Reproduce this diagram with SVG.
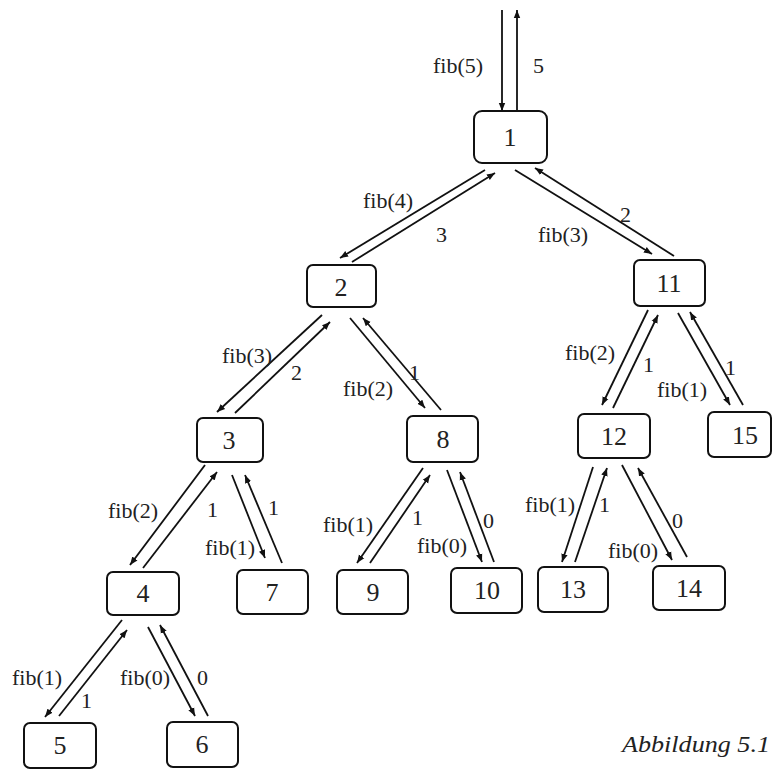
<svg xmlns="http://www.w3.org/2000/svg" width="773" height="771" viewBox="0 0 773 771">
<style>
.n rect{fill:#fff;stroke:#111;stroke-width:2}
.n text{font-size:26px;fill:#222;text-anchor:middle;dominant-baseline:central}
.c line{stroke:#111;stroke-width:1.8;marker-end:url(#ah)}
.l text{font-size:22px;fill:#222}
.cap{font-size:23px;font-style:italic;fill:#222}
</style>
<defs>
<marker id="ah" viewBox="0 0 10 10" refX="10" refY="5" markerWidth="4.5" markerHeight="4.5" orient="auto" markerUnits="strokeWidth">
<path d="M0,1 L10,5 L0,9 z" fill="#111"/>
</marker>
</defs>
<rect width="773" height="771" fill="#fff"/>
<g id="connectors" class="c">
<line x1="502" y1="10" x2="502" y2="111"/>
<line x1="517" y1="111" x2="517" y2="10"/>
<line x1="485" y1="170" x2="340" y2="258"/>
<line x1="352" y1="262" x2="495" y2="173"/>
<line x1="515" y1="170" x2="652" y2="254"/>
<line x1="674" y1="256" x2="535" y2="168"/>
<line x1="322" y1="315" x2="217" y2="412"/>
<line x1="235" y1="413" x2="330" y2="322"/>
<line x1="350" y1="318" x2="425" y2="408"/>
<line x1="441" y1="410" x2="363" y2="318"/>
<line x1="648" y1="310" x2="602" y2="405"/>
<line x1="613" y1="408" x2="658" y2="315"/>
<line x1="678" y1="313" x2="730" y2="405"/>
<line x1="743" y1="405" x2="690" y2="312"/>
<line x1="205" y1="465" x2="130" y2="565"/>
<line x1="143" y1="568" x2="217" y2="472"/>
<line x1="232" y1="475" x2="265" y2="558"/>
<line x1="282" y1="563" x2="245" y2="475"/>
<line x1="423" y1="468" x2="357" y2="563"/>
<line x1="370" y1="563" x2="430" y2="475"/>
<line x1="447" y1="470" x2="482" y2="562"/>
<line x1="494" y1="562" x2="460" y2="472"/>
<line x1="593" y1="467" x2="562" y2="562"/>
<line x1="575" y1="562" x2="607" y2="468"/>
<line x1="622" y1="465" x2="672" y2="560"/>
<line x1="687" y1="557" x2="638" y2="468"/>
<line x1="122" y1="620" x2="45" y2="717"/>
<line x1="59" y1="716" x2="127" y2="630"/>
<line x1="148" y1="627" x2="195" y2="716"/>
<line x1="208" y1="716" x2="160" y2="625"/>
</g>
<g font-family="Liberation Serif, Times New Roman, DejaVu Serif, serif">
<g id="labels" class="l">
<text x="433" y="73">fib(5)</text><text x="533" y="73">5</text>
<text x="363" y="208">fib(4)</text><text x="436" y="242">3</text>
<text x="538" y="242">fib(3)</text><text x="620" y="222">2</text>
<text x="222" y="363">fib(3)</text><text x="291" y="380">2</text>
<text x="343" y="396">fib(2)</text><text x="409" y="380">1</text>
<text x="565" y="360">fib(2)</text><text x="643" y="372">1</text>
<text x="657" y="397">fib(1)</text><text x="725" y="375">1</text>
<text x="108" y="518">fib(2)</text><text x="207" y="517">1</text>
<text x="205" y="555">fib(1)</text><text x="268" y="515">1</text>
<text x="323" y="532">fib(1)</text><text x="412" y="525">1</text>
<text x="417" y="553">fib(0)</text><text x="483" y="528">0</text>
<text x="525" y="512">fib(1)</text><text x="599" y="512">1</text>
<text x="608" y="558">fib(0)</text><text x="672" y="528">0</text>
<text x="12" y="685">fib(1)</text><text x="81" y="708">1</text>
<text x="120" y="685">fib(0)</text><text x="197" y="685">0</text>
</g>
<g id="n1" class="n"><rect x="474" y="111" width="73" height="52" rx="8"/><text x="510" y="137">1</text></g>
<g id="n2" class="n"><rect x="307" y="265" width="69" height="42" rx="6"/><text x="341" y="287">2</text></g>
<g id="n11" class="n"><rect x="634" y="260" width="71" height="46" rx="6"/><text x="669" y="283">11</text></g>
<g id="n3" class="n"><rect x="197" y="418" width="66" height="44" rx="6"/><text x="229" y="440">3</text></g>
<g id="n8" class="n"><rect x="407" y="416" width="71" height="46" rx="6"/><text x="443" y="439">8</text></g>
<g id="n12" class="n"><rect x="578" y="414" width="72" height="44" rx="6"/><text x="614" y="436">12</text></g>
<g id="n15" class="n"><rect x="708" y="412" width="63" height="45" rx="6"/><text x="745" y="435">15</text></g>
<g id="n4" class="n"><rect x="107" y="572" width="72" height="43" rx="6"/><text x="143" y="593">4</text></g>
<g id="n7" class="n"><rect x="237" y="570" width="71" height="44" rx="6"/><text x="272" y="592">7</text></g>
<g id="n9" class="n"><rect x="337" y="570" width="71" height="44" rx="6"/><text x="373" y="592">9</text></g>
<g id="n10" class="n"><rect x="451" y="568" width="71" height="45" rx="6"/><text x="487" y="590">10</text></g>
<g id="n13" class="n"><rect x="538" y="567" width="70" height="45" rx="6"/><text x="573" y="589">13</text></g>
<g id="n14" class="n"><rect x="653" y="566" width="72" height="44" rx="6"/><text x="689" y="588">14</text></g>
<g id="n5" class="n"><rect x="24" y="723" width="72" height="45" rx="6"/><text x="60" y="745">5</text></g>
<g id="n6" class="n"><rect x="167" y="722" width="71" height="45" rx="6"/><text x="202" y="744">6</text></g>
<text class="cap" x="622" y="752" textLength="148" lengthAdjust="spacingAndGlyphs">Abbildung 5.1</text>
</g>
</svg>
